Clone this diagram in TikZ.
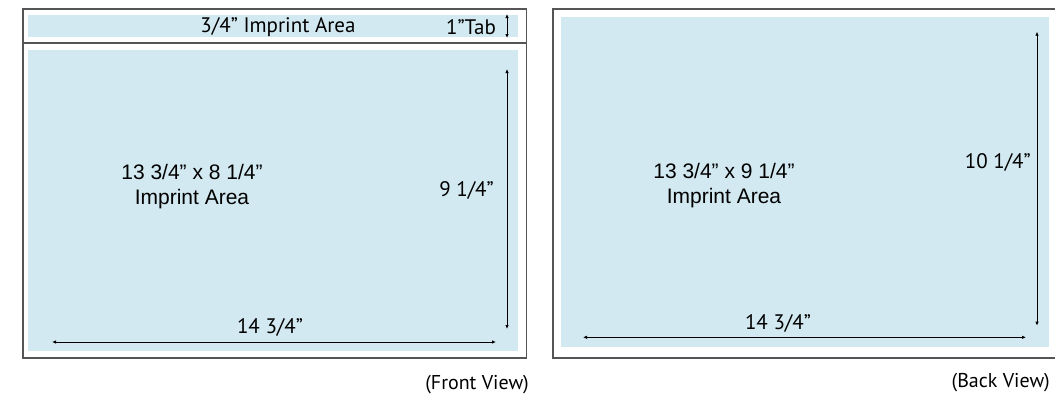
\documentclass[tikz,border=0pt]{standalone}
\usepackage{fontspec}
\setmainfont{Liberation Sans}
\newfontfamily\myriadish{PT Sans}
\usepackage{tikz}
\usetikzlibrary{arrows.meta}
\usetikzlibrary{positioning}
\definecolor{imprintblue}{HTML}{D3E9F1}
\definecolor{framegray}{HTML}{555555}
\tikzset{frame/.style = {draw=framegray, line width=1.6pt}}
\tikzset{imprint/.style = {fill=imprintblue}}
\tikzset{dim/.style = {black, line width=0.9pt, {Latex[length=4pt,width=3.5pt]}-{Latex[length=4pt,width=3.5pt]}}}
\tikzset{label/.style = {font=\myriadish\fontsize{21}{24}\selectfont, inner sep=0pt}}
\tikzset{area/.style = {font=\fontsize{21}{25}\selectfont, align=center, inner sep=0pt}}
\tikzset{view/.style = {font=\myriadish\fontsize{20}{24}\selectfont, inner sep=0pt}}

\begin{document}
\begin{tikzpicture}[x=1pt, y=-1pt]
    \useasboundingbox (0, 0) rectangle (1055, 399);
    \clip (0, 0) rectangle (1055, 399);
    % front view
    \fill [imprint] (28, 15) rectangle (518, 37);
    \fill [imprint] (28, 50) rectangle (518, 351);
    \draw [frame] (22.7, 9) rectangle (526.5, 357.7);
    \draw [frame] (22.7, 43) -- (526.5, 43);
    \node [label] (tabarea) at (278, 27) {3/4” Imprint Area};
    \node [label] (tab) at (471, 27) {1”Tab};
    \coordinate (tabtop) at (507, 14);
    \coordinate (tabbot) at (507, 38);
    \draw [dim] (tabtop) -- (tabbot);
    \node [area] (frontarea) at (192, 187) {13 3/4” x 8 1/4”\\Imprint Area};
    \coordinate (fronttop) at (507, 69);
    \coordinate (frontbot) at (507, 329);
    \draw [dim] (fronttop) -- (frontbot);
    \node [label, anchor=east] (frontheight) at (494, 190) {9 1/4”};
    \coordinate (frontleft) at (52, 342);
    \coordinate (frontright) at (496, 342);
    \draw [dim] (frontleft) -- (frontright);
    \node [label] (frontwidth) at (270, 327) {14 3/4”};
    \node [view, anchor=east] (front) at (529, 385) {(Front View)};
    % back view
    \fill [imprint] (560.7, 16.7) rectangle (1049, 347);
    \draw [frame] (552.7, 9) rectangle (1070, 357.7);
    \coordinate (backtop) at (1037, 31.7);
    \coordinate (backbot) at (1037, 325.7);
    \draw [dim] (backtop) -- (backbot);
    \node [label, anchor=east] (backheight) at (1031, 162) {10 1/4”};
    \node [area] (backarea) at (724, 186) {13 3/4” x 9 1/4”\\Imprint Area};
    \coordinate (backleft) at (583, 337.3);
    \coordinate (backright) at (1026, 337.3);
    \draw [dim] (backleft) -- (backright);
    \node [label] (backwidth) at (778, 323) {14 3/4”};
    \node [view, anchor=east] (back) at (1050, 383) {(Back View)};
\end{tikzpicture}
\end{document}
